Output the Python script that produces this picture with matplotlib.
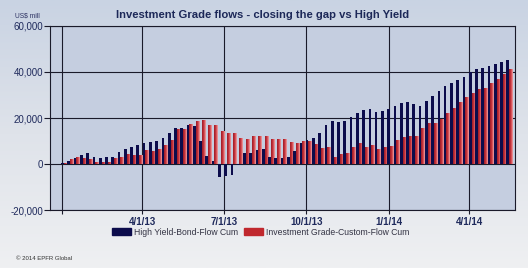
import datetime as dt

import matplotlib
matplotlib.use("Agg")
import matplotlib.pyplot as plt
import matplotlib.dates as mdates
import numpy as np
from matplotlib.colors import LinearSegmentedColormap
from matplotlib.patches import Rectangle
from matplotlib.ticker import FuncFormatter

plt.rcParams["font.family"] = ["Liberation Sans", "DejaVu Sans"]

# weekly cumulative flows, US$ mill, first week 2 Jan 2013
start_date = dt.date(2013, 1, 2)
hy_cum = [0.3, 1.5, 2.5, 3.7, 4.6, 3.1, 2.8, 3.1, 3.1, 5.2,
          6.4, 7.5, 8.1, 9.3, 9.5, 10.2, 11.4, 13.5, 15.8, 15.8,
          16.9, 16.4, 9.9, 3.3, 1.3, -5.6, -5.3, -4.6, -0.4, 5.0,
          5.0, 6.1, 6.5, 3.1, 2.5, 2.5, 3.1, 5.5, 9.0, 10.5,
          11.4, 13.5, 16.9, 18.8, 18.4, 18.8, 20.6, 22.0, 23.5, 23.8,
          22.8, 23.2, 23.8, 25.0, 26.5, 26.8, 26.2, 25.0, 27.2, 29.5,
          31.7, 33.9, 35.1, 36.6, 38.0, 40.1, 41.3, 41.6, 42.7, 43.5,
          44.5, 45.4]
ig_cum = [0.3, 2.2, 3.1, 2.8, 2.2, 1.0, 0.7, 0.7, 2.5, 3.1,
          4.3, 4.0, 4.0, 6.0, 5.8, 6.5, 8.4, 10.5, 15.4, 15.4,
          17.3, 18.6, 19.0, 17.0, 17.0, 14.4, 13.5, 13.5, 11.4, 11.0,
          12.0, 12.0, 12.0, 11.0, 10.7, 10.7, 9.5, 9.0, 9.8, 10.2,
          8.7, 7.0, 7.3, 3.1, 4.3, 4.6, 7.5, 9.0, 7.5, 8.4,
          6.5, 7.5, 8.0, 10.5, 11.7, 12.0, 12.0, 15.8, 17.9, 17.9,
          19.4, 22.0, 24.3, 26.8, 29.2, 30.9, 32.4, 33.2, 35.4, 37.1,
          39.1, 41.3]
y_ticks = [-20000, 0, 20000, 40000, 60000]
x_ticks = [dt.date(2013, 1, 1), dt.date(2013, 4, 1), dt.date(2013, 7, 1),
           dt.date(2013, 10, 1), dt.date(2014, 1, 1), dt.date(2014, 4, 1)]
x_labels = ["", "4/1/13", "7/1/13", "10/1/13", "1/1/14", "4/1/14"]
series_names = ["High Yield-Bond-Flow Cum", "Investment Grade-Custom-Flow Cum"]

NAVY = "#0c0c4c"
RED = "#c0282e"
GRID = "#1a1a2a"
TEXT = "#1f2a5c"

weeks = [start_date + dt.timedelta(days=7 * i) for i in range(len(hy_cum))]
xnum = mdates.date2num(weeks)
hy = np.array(hy_cum) * 1000
ig = np.array(ig_cum) * 1000

fig = plt.figure(figsize=(5.28, 2.68), dpi=100)

# figure background: soft vertical gradient
bg = fig.add_axes([0, 0, 1, 1], zorder=-10)
bg.axis("off")
grad = np.linspace(0, 1, 256).reshape(-1, 1)
bg_cmap = LinearSegmentedColormap.from_list("bg", ["#c9d3e3", "#dfe3ea", "#eff0f2"])
bg.imshow(grad, aspect="auto", cmap=bg_cmap, extent=[0, 1, 0, 1])

ax = fig.add_axes([0.0947, 0.2164, 0.8807, 0.6866])
ax.set_facecolor("#c5cee0")

# bars: navy at the week date, red just to the right with a horizontal gradient
navy_w = 3.0
red_w = 3.8
red_off = 3.4
ax.bar(xnum, hy, width=navy_w, color=NAVY, zorder=4, linewidth=0)
red_bars = ax.bar(xnum + red_off, ig, width=red_w, color="none", zorder=3, linewidth=0)
red_cmap = LinearSegmentedColormap.from_list("red", ["#9c1a26", "#cc3840", "#f0a4a6"])
hgrad = np.linspace(0, 1, 32).reshape(1, -1)
for b in red_bars:
    x0, y0 = b.get_x(), b.get_y()
    w, h = b.get_width(), b.get_height()
    im = ax.imshow(hgrad, cmap=red_cmap, aspect="auto", zorder=3,
                   extent=[x0, x0 + w, min(y0, y0 + h), max(y0, y0 + h)])
    im.set_clip_path(b)

ax.set_xlim(mdates.date2num(dt.date(2012, 12, 19)), mdates.date2num(dt.date(2014, 5, 22)))
ax.set_ylim(-20000, 60000)

ax.set_yticks(y_ticks)
ax.yaxis.set_major_formatter(FuncFormatter(lambda v, p: f"{int(v):,}"))
ax.set_xticks(mdates.date2num(x_ticks))
ax.set_xticklabels(x_labels, fontweight="bold")

ax.grid(True, color=GRID, linewidth=0.8, zorder=1)
ax.set_axisbelow(True)
ax.tick_params(axis="y", length=4, width=0.8, color=GRID, labelsize=7,
               labelcolor=TEXT, pad=1)
ax.tick_params(axis="x", length=3, width=0.8, color=GRID, labelsize=7,
               labelcolor=TEXT, pad=2)
for s in ax.spines.values():
    s.set_color(GRID)
    s.set_linewidth(0.8)

fig.text(0.497, 0.943, "Investment Grade flows - closing the gap vs High Yield",
         ha="center", va="center", fontsize=8.1, fontweight="bold", color="#1c2858")
fig.text(0.028, 0.94, "US$ mill", ha="left", va="center", fontsize=4.8, color="#2a3060")
fig.text(0.03, 0.034, "\u00a9 2014 EPFR Global", ha="left", va="center",
         fontsize=4.3, color="#333333")

handles = [Rectangle((0, 0), 1, 1, color=NAVY), Rectangle((0, 0), 1, 1, color=RED)]
fig.legend(handles, series_names, loc="center", bbox_to_anchor=(0.494, 0.134), ncol=2,
           frameon=False, fontsize=6.2, labelcolor="#333344", handlelength=2.2,
           handleheight=0.9, handletextpad=0.4, columnspacing=0.6)

fig.savefig("out.png", dpi=100)
